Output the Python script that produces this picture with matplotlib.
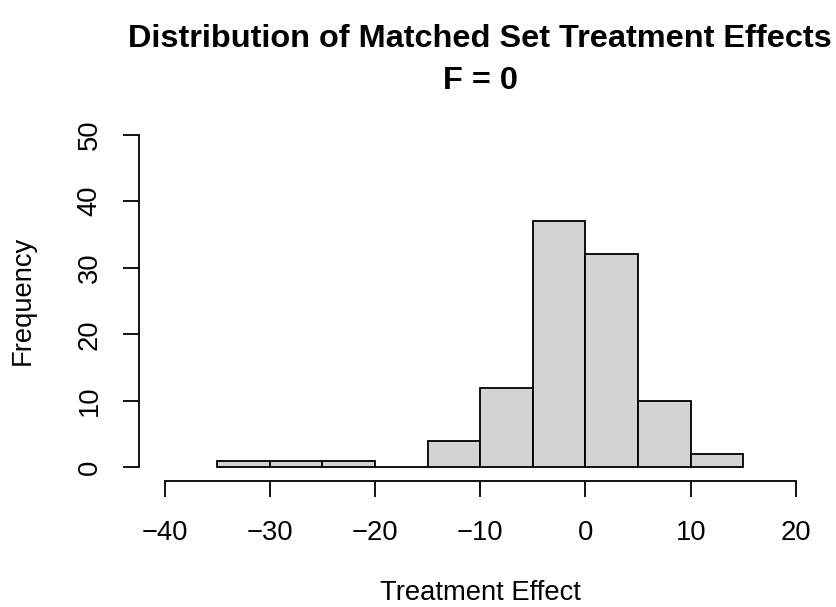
import numpy as np
import matplotlib
matplotlib.use("Agg")
from matplotlib import pyplot as plt

# histogram counts, bins of width 5 from -35 to 15
bin_edges = [-35, -30, -25, -20, -15, -10, -5, 0, 5, 10, 15]
counts = [1, 1, 1, 0, 4, 12, 37, 32, 10, 2]
x_ticks = [-40, -30, -20, -10, 0, 10, 20]
y_ticks = [0, 10, 20, 30, 40, 50]

plt.rcParams['font.family'] = ['Liberation Sans', 'DejaVu Sans']

W, H = 836, 607
fig = plt.figure(figsize=(W / 100, H / 100), dpi=100)
# plot region in pixels: x 139.3..821.2, y 121.3..480.7
ax = fig.add_axes([139.3 / W, 1 - 480.7 / H, (821.2 - 139.3) / W, (480.7 - 121.3) / H])

left = np.array(bin_edges[:-1])
widths = np.diff(bin_edges)
ax.bar(left, counts, width=widths, align='edge', color='#D3D3D3',
       edgecolor='black', linewidth=1.3)

ax.set_xlim(-42.4, 22.4)
ax.set_ylim(-2.0, 52.0)
ax.set_xticks(x_ticks)
ax.set_yticks(y_ticks)
ax.set_xticklabels([str(t).replace('-', '\u2212') for t in x_ticks])
ax.set_yticklabels([str(t) for t in y_ticks], rotation=90, va='center')

for s in ['top', 'right']:
    ax.spines[s].set_visible(False)
ax.spines['bottom'].set_bounds(x_ticks[0], x_ticks[-1])
ax.spines['left'].set_bounds(y_ticks[0], y_ticks[-1])
for s in ['bottom', 'left']:
    ax.spines[s].set_linewidth(1.3)

ax.tick_params(axis='both', length=11.5, width=1.3, labelsize=19.7)
ax.tick_params(axis='x', pad=17)
ax.tick_params(axis='y', pad=15)
ax.patch.set_visible(False)

fig.text(480.25 / W, 1 - 47 / H, 'Distribution of Matched Set Treatment Effects',
         ha='center', va='baseline', fontsize=23.4, fontweight='bold')
fig.text(480.25 / W, 1 - 89 / H, 'F = 0',
         ha='center', va='baseline', fontsize=23.4, fontweight='bold')
fig.text(480.25 / W, 1 - 600 / H, 'Treatment Effect',
         ha='center', va='baseline', fontsize=19.7)
fig.text(23 / W, 1 - 300 / H, 'Frequency',
         ha='center', va='center', fontsize=19.7, rotation=90)

fig.savefig('out.png', dpi=100)
